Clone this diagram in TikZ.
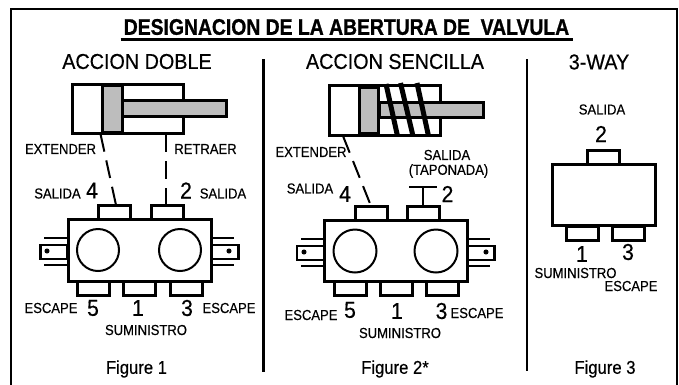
\documentclass[tikz,border=0pt]{standalone}
\usepackage{fontspec}
\setmainfont{Liberation Sans}
\newfontfamily\cnd[FakeStretch=0.92,FakeBold=0.4]{Liberation Sans}
\newfontfamily\cndn[FakeStretch=0.9,FakeBold=0.4]{Liberation Sans}
\newfontfamily\cndb[FakeStretch=0.86,FakeBold=1]{Liberation Sans Bold}
\definecolor{pgray}{gray}{0.74}
\tikzset{
  bx/.style={draw=black,line width=#1,inner sep=0pt,outer sep=0pt},
  bx/.default=3pt,
  lbl/.style={inner sep=0pt,font=\cndn\fontsize{14.5}{14.5}\selectfont},
  num/.style={inner sep=0pt,font=\cnd\fontsize{23}{23}\selectfont},
  head/.style={inner sep=0pt,font=\cnd\fontsize{21.5}{21.5}\selectfont},
  fig/.style={inner sep=0pt,font=\cndn\fontsize{18.5}{18.5}\selectfont},
  leader/.style={line width=2pt,dash pattern=on 18pt off 9pt},
  thin line/.style={line width=1.8pt},
  rule/.style={line width=2.2pt},
  spring/.style={line width=5pt},
  port/.style={bx,minimum width=32pt,minimum height=14pt},
  wheel/.style={circle,draw,line width=2pt,fill=white,inner sep=0pt},
  pin/.style={circle,draw,line width=1pt,fill=black,minimum size=4pt,inner sep=0pt},
  tab/.style={bx=2.4pt,minimum width=27pt,minimum height=14pt},
}
\begin{document}
\begin{tikzpicture}[x=1pt,y=-1pt]
\useasboundingbox (0,0) rectangle (679,384);
\fill[white] (0,0) rectangle (679,384);
\draw[line width=2.4pt] (11,384.5) -- (11,9) -- (677,9) -- (677,384.5);
% title
\node[inner sep=0pt,font=\cndb\fontsize{22.5}{22.5}\selectfont] (title) at (346.5,27) {DESIGNACION DE LA ABERTURA DE\ \ VALVULA};
\draw[line width=2.2pt] (120.5,39.5) -- (572.5,39.5);
% dividers
\coordinate (d1a) at (263.5,59); \coordinate (d1b) at (263.5,372);
\coordinate (d2a) at (527,59); \coordinate (d2b) at (527,371);
\draw[rule] (d1a) -- (d1b);
\draw[rule] (d2a) -- (d2b);
% headings
\node[head] (h1) at (137,61.5) {ACCION DOBLE};
\node[head] (h2) at (395,61.5) {ACCION SENCILLA};
\node[head] (h3) at (599,62) {3-WAY};
% ---- figure 1 cylinder
\node[bx,minimum width=111pt,minimum height=49pt] (c1) at (127.5,108.5) {};
\node[bx,fill=pgray,minimum width=20pt,minimum height=47pt] (p1) at (112,108.5) {};
\node[bx,fill=pgray,minimum width=104pt,minimum height=16pt] (r1) at (174,108) {};
\coordinate (c1l) at (100.5,134); \coordinate (c1r) at (166,134);
% ---- figure 1 valve
\node[port] (v1t4) at (114.5,212) {};
\node[port] (v1t2) at (167,212) {};
\node[port] (v1b5) at (93.5,288) {};
\node[port] (v1b1) at (139.5,288) {};
\node[port] (v1b3) at (186,288) {};
\node[bx,fill=white,minimum width=143pt,minimum height=62pt] (v1) at (139.5,250) {};
\node[wheel,minimum size=42pt] (v1cl) at (98,250) {};
\node[wheel,minimum size=42pt] (v1cr) at (180,250) {};
\node[tab] (v1tl) at (54,252) {};
\node[tab] (v1tr) at (225,252) {};
\node[pin] (v1dl) at (47,251) {};
\node[pin] (v1dr) at (229,251) {};
\draw[thin line] (44,238) -- (v1.west |- 0,238) (44,265) -- (v1.west |- 0,265);
\draw[thin line] (v1.east |- 0,238) -- (234,238) (v1.east |- 0,265) -- (234,265);
\draw[leader] (c1l) -- (116,205);
\draw[leader] (c1r) -- (166,205);
% labels 1
\node[lbl] (t1e) at (60.5,149) {EXTENDER};
\node[lbl] (t1r) at (205.5,149) {RETRAER};
\node[lbl] (t1s4) at (57.5,193.5) {SALIDA};
\node[num] (n14) at (92,190.5) {4};
\node[num] (n12) at (186,190.5) {2};
\node[lbl] (t1s2) at (223,193.5) {SALIDA};
\node[lbl] (t1e5) at (51,308) {ESCAPE};
\node[num] (n15) at (93,308) {5};
\node[num] (n11) at (138,308) {1};
\node[num] (n13) at (187,308) {3};
\node[lbl] (t1e3) at (229,308) {ESCAPE};
\node[lbl] (t1su) at (146,330) {SUMINISTRO};
\node[fig] (f1) at (136.5,369) {Figure 1};
% ---- figure 2 cylinder
\node[bx,minimum width=111pt,minimum height=50pt] (c2) at (384.5,110) {};
\node[bx,fill=pgray,minimum width=104pt,minimum height=15pt] (r2) at (431,110) {};
\node[bx,fill=pgray,minimum width=19pt,minimum height=46pt] (p2) at (368.5,110) {};
\draw[spring] (386,84) -- (397.5,136);
\draw[spring] (400.5,83) -- (413,136);
\draw[spring] (417,83) -- (428.5,136);
\coordinate (c2l) at (343,136);
% ---- figure 2 valve
\node[port] (v2t4) at (371,213) {};
\node[port] (v2t2) at (423,213) {};
\node[port] (v2b5) at (350,288.5) {};
\node[port] (v2b1) at (396,288.5) {};
\node[port] (v2b3) at (442,288.5) {};
\node[bx,fill=white,minimum width=143pt,minimum height=61pt] (v2) at (395.5,250.5) {};
\node[wheel,minimum size=43pt] (v2cl) at (355,251) {};
\node[wheel,minimum size=43pt] (v2cr) at (436,251) {};
\node[tab] (v2tl) at (310.5,253) {};
\node[tab] (v2tr) at (481,253) {};
\node[pin] (v2dl) at (304,252) {};
\node[pin] (v2dr) at (486,252) {};
\draw[thin line] (301,239) -- (v2.west |- 0,239) (301,266) -- (v2.west |- 0,266);
\draw[thin line] (v2.east |- 0,239) -- (490,239) (v2.east |- 0,266) -- (490,266);
\draw[leader] (c2l) -- (371,206);
\coordinate (tbar) at (423,187);
\draw[line width=2pt] (v2t2.north) -- (tbar);
\draw[line width=2pt] (409,187) -- (437,187);
% labels 2
\node[lbl] (t2e) at (311,152) {EXTENDER};
\node[lbl] (t2s) at (447,155) {SALIDA};
\node[lbl] (t2t) at (448.5,171) {(TAPONADA)};
\node[lbl] (t2s4) at (310,188.5) {SALIDA};
\node[num] (n24) at (345,194) {4};
\node[num] (n22) at (447.5,194) {2};
\node[lbl] (t2e5) at (311,315) {ESCAPE};
\node[num] (n25) at (350,310) {5};
\node[num] (n21) at (397,311) {1};
\node[num] (n23) at (441.5,311) {3};
\node[lbl] (t2e3) at (477,313) {ESCAPE};
\node[lbl] (t2su) at (400,333) {SUMINISTRO};
\node[fig] (f2) at (395,369) {Figure 2*};
% ---- figure 3
\node[port] (v3t2) at (603,157.5) {};
\node[port] (v3b1) at (582,233) {};
\node[port] (v3b3) at (628,233) {};
\node[bx,fill=white,minimum width=103pt,minimum height=61pt] (v3) at (604,195) {};
\node[lbl] (t3s) at (602,109.5) {SALIDA};
\node[num] (n32) at (601,134) {2};
\node[num] (n31) at (582,254) {1};
\node[num] (n33) at (628,252) {3};
\node[lbl] (t3su) at (575.5,273) {SUMINISTRO};
\node[lbl] (t3e) at (631,286) {ESCAPE};
\node[fig] (f3) at (605,369) {Figure 3};
\end{tikzpicture}
\end{document}
